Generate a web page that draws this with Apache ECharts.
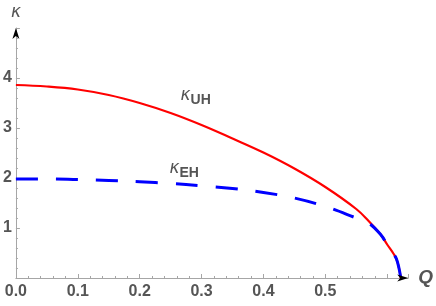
<!DOCTYPE html>
<html><head><meta charset="utf-8">
<script src="https://cdn.jsdelivr.net/npm/echarts@6/dist/echarts.min.js"></script>
<style>html,body{margin:0;padding:0;background:#fff}#c{width:436px;height:306px}</style>
</head><body><div id="c"></div>
<script>
const Q   = [0, 0.05, 0.1, 0.15, 0.2, 0.25, 0.3, 0.35, 0.4, 0.45, 0.5, 0.55, 0.57, 0.59, 0.6, 0.61, 0.615, 0.619, 0.622];
const kUH = [3.86, 3.83, 3.77, 3.66, 3.50, 3.30, 3.06, 2.79, 2.51, 2.19, 1.82, 1.38, 1.14, 0.86, 0.67, 0.49, 0.38, 0.2, 0];
const kEH = [1.98, 1.98, 1.97, 1.95, 1.925, 1.89, 1.845, 1.79, 1.71, 1.60, 1.43, 1.20, 1.10, 0.86, 0.67, 0.49, 0.38, 0.2, 0];
const xTicks = ['0.0','0.1','0.2','0.3','0.4','0.5'];
const yTicks = ['1','2','3','4'];
const curveLabels = [
  {k: 'κ', sub: 'UH', at: [0.292, 3.62]},
  {k: 'κ', sub: 'EH', at: [0.274, 2.16]}
];
const X_MAX = 0.634, Y_MAX = 5;

const chart = echarts.init(document.getElementById('c'));
const axisColor = '#a6a6a6', txt = '#555';
chart.setOption({
  animation: false,
  grid: {left: 15, right: 26, top: 28, bottom: 28, containLabel: false},
  xAxis: {
    type: 'value', min: 0, max: X_MAX, interval: 0.1,
    name: 'Q', nameLocation: 'end', nameGap: 10,
    nameTextStyle: {color: txt, fontSize: 19, fontWeight: 'bold', fontStyle: 'italic', fontFamily: 'Liberation Sans', align: 'left', verticalAlign: 'middle'},
    axisLine: {show: true, onZero: false, lineStyle: {color: axisColor, width: 1}},
    axisTick: {show: true, inside: true, length: 4, lineStyle: {color: axisColor}},
    minorTick: {show: true, splitNumber: 5, length: 2, lineStyle: {color: axisColor}},
    splitLine: {show: false},
    axisLabel: {
      margin: 6, color: txt, fontSize: 16, fontWeight: 'bold', fontFamily: 'Liberation Sans',
      showMaxLabel: false,
      formatter: v => { const i = Math.round(v * 10); return (Math.abs(v*10 - i) < 1e-6 && i < xTicks.length) ? xTicks[i] : ''; }
    }
  },
  yAxis: {
    type: 'value', min: 0, max: Y_MAX, interval: 1,
    name: 'κ', nameLocation: 'end', nameGap: 7,
    nameTextStyle: {color: txt, fontSize: 17, fontStyle: 'italic', fontFamily: 'DejaVu Sans', align: 'center', verticalAlign: 'bottom'},
    axisLine: {show: true, onZero: false, lineStyle: {color: axisColor, width: 1}},
    axisTick: {show: true, inside: true, length: 4, lineStyle: {color: axisColor}},
    minorTick: {show: true, splitNumber: 5, length: 2, lineStyle: {color: axisColor}},
    splitLine: {show: false},
    axisLabel: {
      margin: 4, color: txt, fontSize: 16, fontWeight: 'bold', fontFamily: 'Liberation Sans',
      formatter: v => { const i = Math.round(v); return (i >= 1 && i <= yTicks.length) ? yTicks[i-1] : ''; }
    }
  },
  series: [
    {type: 'line', data: Q.map((q, i) => [q, kUH[i]]), showSymbol: false, smooth: 0.4,
     lineStyle: {color: '#ff0000', width: 2.2}, z: 2},
    {type: 'line', data: Q.map((q, i) => [q, kEH[i]]), showSymbol: false, smooth: 0.4,
     lineStyle: {color: '#0000ff', width: 3, type: [22, 18]}, z: 3}
  ]
});

const xe = chart.convertToPixel({gridIndex: 0}, [X_MAX, 0]);
const ye = chart.convertToPixel({gridIndex: 0}, [0, Y_MAX]);
const graphics = [
  {type: 'polygon', shape: {points: [[xe[0], xe[1]], [xe[0]-11, xe[1]-3.5], [xe[0]-8, xe[1]], [xe[0]-11, xe[1]+3.5]]}, style: {fill: '#000'}, z: 10},
  {type: 'polygon', shape: {points: [[ye[0], ye[1]], [ye[0]-3.5, ye[1]+11], [ye[0], ye[1]+8], [ye[0]+3.5, ye[1]+11]]}, style: {fill: '#000'}, z: 10}
];
curveLabels.forEach(l => {
  const p = chart.convertToPixel({gridIndex: 0}, l.at);
  graphics.push({type: 'text', x: p[0] - 6, y: p[1] - 1, style: {text: l.k, fill: txt, fontSize: 17, fontStyle: 'italic', fontFamily: 'DejaVu Sans', align: 'right', verticalAlign: 'middle'}, z: 10});
  graphics.push({type: 'text', x: p[0] - 6, y: p[1] + 3, style: {text: l.sub, fill: txt, fontSize: 14, fontWeight: 'bold', fontFamily: 'Liberation Sans', align: 'left', verticalAlign: 'middle'}, z: 10});
});
chart.setOption({graphic: graphics});
</script></body></html>
